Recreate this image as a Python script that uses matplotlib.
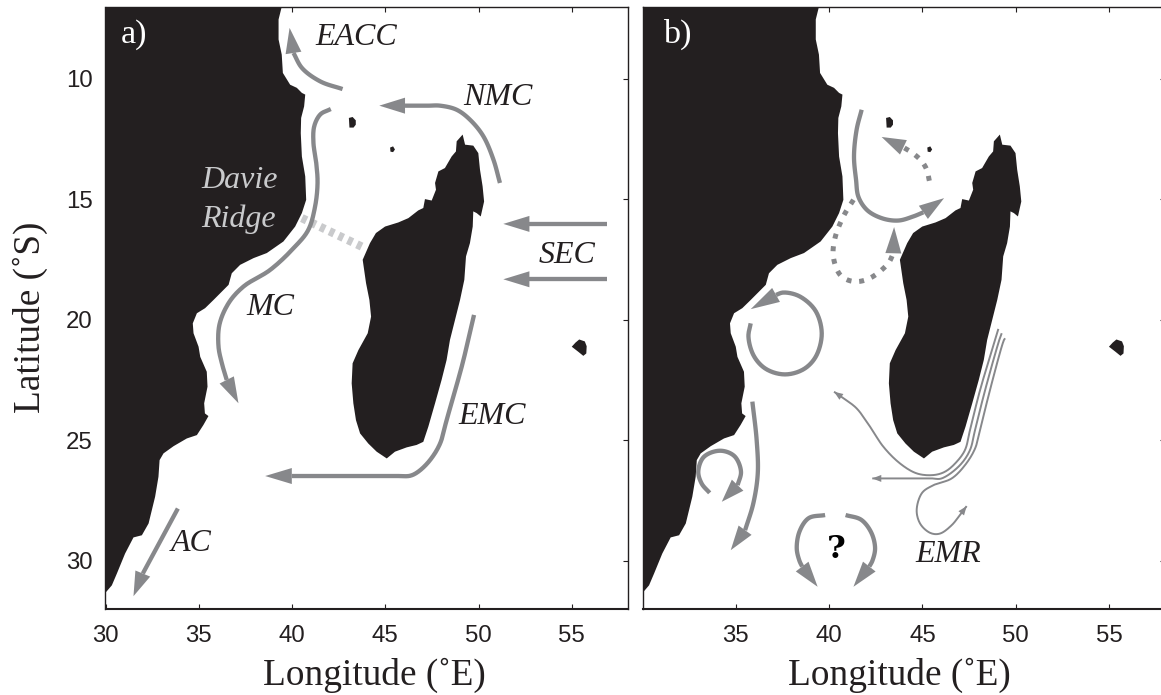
import numpy as np
import matplotlib
matplotlib.use("Agg")
import matplotlib.pyplot as plt
from matplotlib.patches import Polygon

# coastlines, (lon, lat)
africa = [(39.45,7.0),(39.28,7.53),(39.28,8.36),(39.45,8.99),(39.51,9.75),(39.90,10.24),(40.26,10.37),
          (40.53,10.58),(40.71,10.65),(40.65,11.14),(40.49,11.62),(40.47,12.25),(40.53,13.22),(40.71,14.05),
          (40.76,15.02),(40.53,15.57),(40.17,16.13),(39.54,16.75),(38.65,17.23),(37.94,17.44),(37.22,17.72),
          (36.77,18.07),(36.60,18.55),(35.79,19.18),(35.34,19.52),(34.90,19.73),(34.68,20.15),(34.72,20.56),
          (34.99,21.12),(35.08,21.54),(35.43,22.16),(35.47,22.78),(35.29,23.47),(35.33,23.89),(35.52,24.0),
          (35.25,24.37),(34.90,24.79),(34.36,24.93),(33.65,25.25),(33.11,25.55),(32.90,25.83),(32.84,26.52),
          (32.66,27.35),(32.31,28.46),(31.95,28.95),(31.50,29.04),(31.05,29.71),(30.61,30.54),(30.34,31.03),
          (30.04,31.30),(30.0,31.30),(30.0,7.0)]
madagascar = [(49.15,12.31),(49.28,12.73),(49.72,12.77),(49.99,13.08),(50.08,13.77),(50.22,14.46),(50.30,15.09),
              (50.12,15.71),(49.90,15.57),(49.72,15.50),(49.69,16.13),(49.54,16.82),(49.33,17.37),(49.24,18.34),
              (49.01,19.18),(48.74,20.01),(48.47,20.84),(48.29,21.67),(48.02,22.50),(47.67,23.47),(47.31,24.44),
              (47.04,25.07),(46.68,25.20),(46.15,25.30),(45.52,25.48),(45.08,25.76),(44.54,25.48),(44.09,25.14),
              (43.65,24.72),(43.43,24.17),(43.29,23.47),(43.20,22.64),(43.25,21.81),(43.56,21.26),(44.06,20.56),
              (44.24,19.87),(44.15,19.18),(43.97,18.48),(43.79,17.51),(44.18,16.82),(44.50,16.40),(44.99,16.13),
              (45.70,15.96),(46.24,15.78),(46.77,15.46),(47.04,15.36),(47.13,14.99),(47.49,15.05),(47.72,14.60),
              (47.67,14.32),(47.85,13.84),(48.20,13.70),(48.56,13.22),(48.79,13.01),(48.83,12.59)]
comoro = [(43.05,11.62),(43.25,11.58),(43.42,11.72),(43.42,11.9),(43.3,12.02),(43.08,12.02)]
mayotte = [(45.26,12.85),(45.42,12.8),(45.52,12.93),(45.42,13.04),(45.28,13.02)]
reunion = [(55.0,21.12),(55.2,20.95),(55.4,20.82),(55.7,20.9),(55.8,21.1),(55.78,21.4),(55.62,21.5),(55.35,21.33)]
land = [africa, madagascar, comoro, mayotte, reunion]

# panel a currents, last point is the arrow tip
eacc = [(42.71,10.42),(41.51,10.10),(40.53,9.54),(40.08,8.92),(39.87,7.88)]
mc = [(42.08,11.25),(41.51,11.48),(41.19,11.97),(41.15,12.66),(41.30,13.49),(41.37,14.32),(41.24,15.29),(40.88,16.26),
      (40.08,17.03),(38.83,17.93),(37.40,18.62),(36.60,19.31),(36.11,20.20),(36.06,21.12),(36.24,21.81),(36.50,22.50),
      (37.13,23.47)]
nmc = [(51.15,14.32),(50.80,13.35),(50.26,12.38),(49.54,11.69),(48.83,11.28),(47.94,11.11),(47.3,11.11),(46.06,11.11),(44.68,11.11)]
sec_north = [(56.87,16.02),(52.73,16.02),(51.33,16.02)]
sec_south = [(56.87,18.32),(52.73,18.32),(51.33,18.32)]
emc = [(49.76,19.80),(49.45,20.84),(49.10,21.95),(48.29,24.17),(47.94,25.14),(47.40,25.83),(46.77,26.31),(46.33,26.48),
       (45.7,26.49),(45.0,26.49),(39.99,26.49),(38.56,26.49)]
ac = [(33.88,27.84),(32.0,30.54),(31.50,31.48)]
davie = [(40.53,15.78),(43.92,17.03)]

# panel b currents
west_loop = [(41.74,11.28),(41.47,12.11),(41.33,13.22),(41.44,14.19),(41.56,14.88),(42.01,15.43),(42.81,15.78),(43.71,15.88),
             (44.51,15.71),(45.05,15.54),(46.16,14.95)]
dots_north = [(45.37,14.23),(45.23,13.77),(44.96,13.42),(44.51,13.10),(43.98,12.84),(42.81,12.41)]
dots_south = [(41.30,15.02),(40.76,15.71),(40.31,16.61),(40.22,17.37),(40.58,18.13),(41.30,18.41),(42.19,18.27),(43.17,17.65),
              (43.44,17.24),(43.48,16.15)]
eddy_north = [(35.79,20.15),(35.67,20.70),(35.93,21.46),(36.56,22.02),(37.63,22.27),(38.70,22.02),(39.33,21.46),(39.60,20.56),
              (39.29,19.66),(38.44,19.04),(37.54,18.87),(37.15,18.97),(35.79,19.56)]
south_current = [(35.88,23.40),(36.11,25.0),(36.17,26.38),(35.93,27.63),(35.49,28.74),(34.72,29.57)]
eddy_south = [(33.59,27.19),(33.16,26.80),(32.98,26.31),(33.25,25.72),(34.15,25.44),(34.95,25.69),(35.27,26.31),(35.09,26.87),(34.24,27.56)]
arc_left = [(39.78,28.11),(38.88,28.25),(38.40,28.81),(38.26,29.50),(38.40,30.0),(38.55,30.25),(39.38,31.09)]
arc_right = [(40.88,28.11),(41.74,28.32),(42.28,28.88),(42.46,29.50),(42.32,30.0),(42.15,30.25),(41.30,31.09)]
emr_inner = [(49.07,20.38),(48.89,20.84),(48.09,22.92),(47.55,24.58),(47.28,25.41),(46.75,25.97),(46.21,26.31),(45.59,26.45),
             (44.69,26.38),(43.80,25.97),(42.90,25.27),(42.19,24.44),(41.47,23.68),(40.76,23.26),(40.26,22.99)]
emr_mid = [(49.25,20.56),(49.12,20.84),(48.36,22.92),(47.82,24.58),(47.55,25.41),(47.01,26.04),(46.03,26.59),(45.5,26.59),
           (45.0,26.59),(42.90,26.59),(42.31,26.59)]
emr_outer = [(49.43,20.77),(49.37,20.84),(48.62,22.92),(48.09,24.58),(47.82,25.35),(47.28,26.04),(46.57,26.59),(45.59,26.87),
             (44.96,27.21),(44.69,27.91),(44.87,28.46),(45.41,28.85),(45.94,28.88),(46.57,28.53),(47.01,28.11),(47.37,27.74)]

xticks = [30, 35, 40, 45, 50, 55]
yticks = [10, 15, 20, 25, 30]

LAND = "#231f20"
GREY = "#87888b"
LIGHT = "#c9cacc"
W, H = 1161, 695

plt.rcParams["font.family"] = "Liberation Sans"
SERIF = "Liberation Serif"


def smooth(pts, n=14):
    # centripetal catmull-rom through the points that were read
    p = np.array(pts, dtype=float)
    p = np.vstack([2 * p[0] - p[1], p, 2 * p[-1] - p[-2]])
    t = np.concatenate([[0], np.cumsum(np.linalg.norm(np.diff(p, axis=0), axis=1) ** 0.5)])
    out = []
    for i in range(1, len(p) - 2):
        t0, t1, t2, t3 = t[i - 1:i + 3]
        for u in np.linspace(t1, t2, n, endpoint=False):
            a1 = ((t1 - u) * p[i - 1] + (u - t0) * p[i]) / (t1 - t0)
            a2 = ((t2 - u) * p[i] + (u - t1) * p[i + 1]) / (t2 - t1)
            a3 = ((t3 - u) * p[i + 1] + (u - t2) * p[i + 2]) / (t3 - t2)
            b1 = ((t2 - u) * a1 + (u - t0) * a2) / (t2 - t0)
            b2 = ((t3 - u) * a2 + (u - t1) * a3) / (t3 - t1)
            out.append(((t2 - u) * b1 + (u - t1) * b2) / (t2 - t1))
    out.append(p[-2])
    return np.array(out)


def head(ax, base, tip, half_width, length=None):
    # triangle worked out in pixels so it keeps its shape, then put back in data units
    b, e = ax.transData.transform([base, tip])
    d = (e - b) / np.linalg.norm(e - b)
    if length is not None:
        b = e - d * length
    n = np.array([-d[1], d[0]])
    tri = ax.transData.inverted().transform([e, b + n * half_width, b - n * half_width])
    ax.add_patch(Polygon(tri, closed=True, fc=GREY, ec="none", zorder=3))


def current(ax, pts, lw=3.1, dashes=None):
    # pts[-1] is the tip of the arrow, pts[-2] the back of the head
    line = smooth(pts[:-1])
    kw = dict(solid_capstyle="butt", dash_capstyle="butt")
    if dashes:
        kw["dashes"] = dashes
    ax.plot(line[:, 0], line[:, 1], color=GREY, lw=lw, **kw)
    head(ax, pts[-2], pts[-1], 8.0)


def thin_current(ax, pts):
    line = smooth(pts)
    ax.plot(line[:, 0], line[:, 1], color=GREY, lw=1.4, solid_capstyle="butt")
    head(ax, pts[-2], pts[-1], 3.5, length=9)


def label(ax, lon, lat, txt, color=LAND, style="italic", size=23):
    ax.text(lon, lat, txt, family=SERIF, style=style, fontsize=size, color=color, va="baseline", ha="left")


def setup(ax, labels):
    for poly in land:
        ax.add_patch(Polygon(poly, closed=True, fc=LAND, ec="none"))
    ax.set_xlim(30, 58)
    ax.set_ylim(32, 7)
    ax.set_xticks(xticks if labels else xticks[1:])
    ax.set_yticks(yticks)
    if not labels:
        ax.set_yticklabels([])
    ax.tick_params(direction="in", length=3.8, width=0.8, top=True, right=True, labelsize=17.3,
                   colors=LAND, pad=9)
    ax.tick_params(axis="x", pad=12)
    ax.spines["bottom"].set_linewidth(1.5)
    for s in ["top", "left", "right"]:
        ax.spines[s].set_linewidth(1.0)
    for s in ax.spines.values():
        s.set_color(LAND)


fig = plt.figure(figsize=(W / 100, H / 100), dpi=100)
ax_a = fig.add_axes([105.5 / W, (H - 608.7) / H, 522.2 / W, 602 / H])
ax_b = fig.add_axes([642.7 / W, (H - 608.7) / H, 522.2 / W, 602 / H])
setup(ax_a, True)
setup(ax_b, False)

# panel a
ax_a.plot(*zip(*davie), color=LIGHT, lw=6, dashes=(0.62, 0.6), dash_capstyle="butt")
for c in [eacc, mc, nmc, sec_north, sec_south, emc, ac]:
    current(ax_a, c)
label(ax_a, 30.83, 8.49, "a)", color="white", style="normal", size=24.7)
label(ax_a, 41.24, 8.6, "EACC")
label(ax_a, 49.19, 11.07, "NMC")
label(ax_a, 35.13, 14.53, "Davie", color=LIGHT)
label(ax_a, 35.13, 16.15, "Ridge", color=LIGHT)
label(ax_a, 37.58, 19.80, "MC")
label(ax_a, 53.21, 17.65, "SEC")
label(ax_a, 48.92, 24.35, "EMC")
label(ax_a, 33.50, 29.61, "AC")

# panel b
for c in [west_loop, eddy_north, south_current, eddy_south, arc_left, arc_right]:
    current(ax_b, c)
for c in [dots_north, dots_south]:
    current(ax_b, c, lw=3.6, dashes=(1.0, 1.55))
for c in [emr_inner, emr_mid, emr_outer]:
    thin_current(ax_b, c)
label(ax_b, 31.1, 8.49, "b)", color="white", style="normal", size=24.7)
label(ax_b, 44.60, 30.06, "EMR")
ax_b.text(40.36, 29.55, "?", family="DejaVu Serif", weight="bold", fontsize=23, color="black", ha="center", va="center")

fig.text(374 / W, 1 - 685 / H, "Longitude (˚E)", family=SERIF, fontsize=26.8, color=LAND, ha="center", va="baseline")
fig.text(899 / W, 1 - 685 / H, "Longitude (˚E)", family=SERIF, fontsize=26.8, color=LAND, ha="center", va="baseline")
fig.text(30 / W, 1 - 317 / H, "Latitude (˚S)", family=SERIF, fontsize=26.8, color=LAND, rotation=90,
         ha="center", va="center")

fig.savefig("out.png", dpi=100)
